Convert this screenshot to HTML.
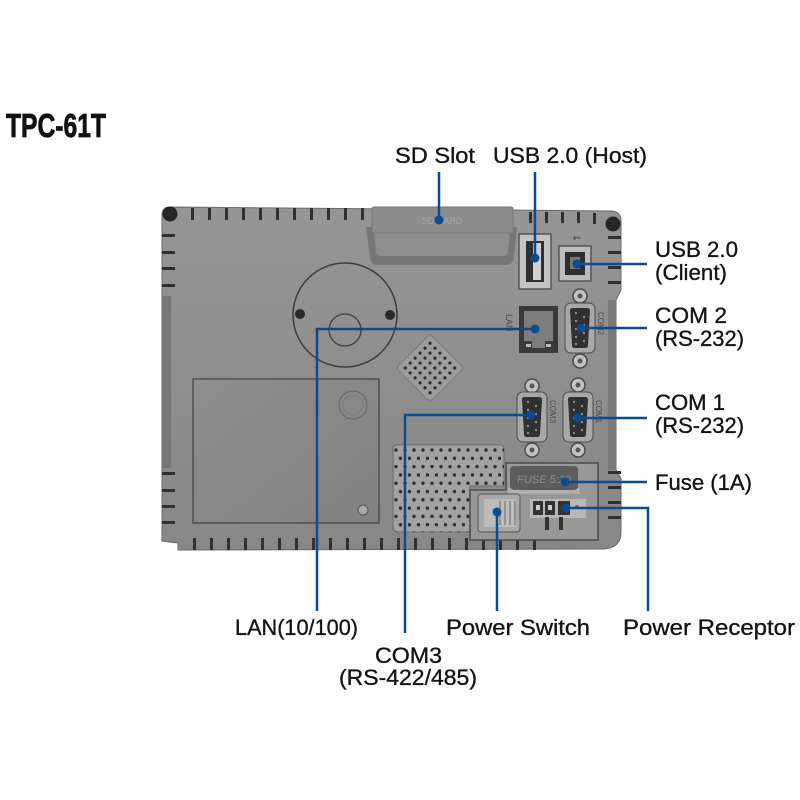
<!DOCTYPE html>
<html><head><meta charset="utf-8">
<style>html,body{margin:0;padding:0;background:#fff;width:800px;height:800px;overflow:hidden}svg{display:block}
.lb{font-family:"Liberation Sans",Arial,sans-serif;font-size:22px;fill:#141414;stroke:#141414;stroke-width:0.35px}
.sm{font-family:"Liberation Sans",Arial,sans-serif;fill:#4a4a4a}
</style></head>
<body>
<svg width="800" height="800" viewBox="0 0 800 800" xmlns="http://www.w3.org/2000/svg">
<defs>
<linearGradient id="body" x1="0" y1="0" x2="0" y2="1">
<stop offset="0" stop-color="#959595"/><stop offset="1" stop-color="#878787"/>
</linearGradient>
<linearGradient id="plate" x1="0" y1="0" x2="1" y2="1">
<stop offset="0" stop-color="#8e8e8e"/><stop offset="1" stop-color="#828282"/>
</linearGradient>
<pattern id="holes" x="393" y="446" width="9" height="16.6" patternUnits="userSpaceOnUse">
<circle cx="3" cy="4" r="1.7" fill="#2e2e2e"/>
<circle cx="7.5" cy="12.3" r="1.7" fill="#2e2e2e"/>
</pattern>
<pattern id="dhole" x="-21" y="-21" width="7" height="7" patternUnits="userSpaceOnUse">
<circle cx="3.5" cy="3.5" r="1.6" fill="#2e2e2e"/>
</pattern>
</defs>

<!-- Title -->
<text x="6" y="137" font-family="Liberation Sans, Arial, sans-serif" font-weight="bold" font-size="33" fill="#111" stroke="#111" stroke-width="0.8" textLength="100" lengthAdjust="spacingAndGlyphs">TPC-61T</text>

<!-- Body -->
<path d="M170,207 L612,211 Q621,212 621,221 L621,290 L616,300 L616,470 L621,478 L621,532 Q621,548 604,549 L178,550 L178,543 L162,541 L162,215 Q162,207 170,207 Z" fill="url(#body)" stroke="#6a6a6a" stroke-width="1"/>
<rect x="162" y="296" width="9" height="172" fill="#777"/>
<rect x="608" y="300" width="8" height="170" fill="#7a7a7a"/>

<!-- corner holes -->
<circle cx="170" cy="214" r="7.5" fill="#262626"/>
<circle cx="613" cy="224" r="7.5" fill="#262626"/>

<!-- top slits -->
<g fill="#303030">
<rect x="191" y="208" width="3" height="12"/><rect x="208" y="208" width="3" height="12"/><rect x="225" y="208" width="3" height="12"/><rect x="242" y="208" width="3" height="12"/><rect x="259" y="208" width="3" height="12"/><rect x="276" y="208" width="3" height="12"/><rect x="293" y="208" width="3" height="12"/><rect x="310" y="208" width="3" height="12"/><rect x="327" y="208" width="3" height="12"/><rect x="344" y="208" width="3" height="12"/><rect x="361" y="208" width="3" height="12"/>
<rect x="529" y="212" width="3" height="11"/><rect x="545" y="212" width="3" height="11"/><rect x="561" y="212" width="3" height="11"/><rect x="577" y="212" width="3" height="11"/><rect x="593" y="213" width="3" height="11"/>
<rect x="162" y="234" width="13" height="3"/><rect x="162" y="251" width="13" height="3"/><rect x="162" y="267" width="13" height="3"/><rect x="162" y="284" width="13" height="3"/>
<rect x="162" y="472" width="13" height="3"/><rect x="162" y="489" width="13" height="3"/><rect x="162" y="505" width="13" height="3"/><rect x="162" y="521" width="13" height="3"/>
<rect x="608" y="236" width="13" height="3"/><rect x="608" y="251" width="13" height="3"/><rect x="608" y="266" width="13" height="3"/><rect x="608" y="281" width="13" height="3"/>
<rect x="608" y="471" width="13" height="3"/><rect x="608" y="486" width="13" height="3"/><rect x="608" y="501" width="13" height="3"/><rect x="608" y="516" width="13" height="3"/>
<rect x="193" y="538" width="3" height="12"/><rect x="210" y="538" width="3" height="12"/><rect x="227" y="538" width="3" height="12"/><rect x="244" y="538" width="3" height="12"/><rect x="261" y="538" width="3" height="12"/><rect x="278" y="538" width="3" height="12"/><rect x="295" y="538" width="3" height="12"/><rect x="312" y="538" width="3" height="12"/><rect x="329" y="538" width="3" height="12"/><rect x="346" y="538" width="3" height="12"/><rect x="363" y="538" width="3" height="12"/><rect x="380" y="538" width="3" height="12"/><rect x="397" y="538" width="3" height="12"/><rect x="414" y="538" width="3" height="12"/><rect x="431" y="538" width="3" height="12"/><rect x="448" y="538" width="3" height="12"/><rect x="465" y="538" width="3" height="12"/><rect x="482" y="538" width="3" height="12"/><rect x="499" y="538" width="3" height="12"/><rect x="516" y="538" width="3" height="12"/><rect x="533" y="538" width="3" height="12"/>
</g>

<!-- SD slot -->
<path d="M366,227 L370,258 Q371,265 378,265 L506,265 Q513,265 514,258 L517,227 Z" fill="#767676"/>
<path d="M374,232 L376,252 Q377,256 382,256 L503,256 Q508,256 508,252 L510,232 Z" fill="#8e8e8e"/>
<rect x="372" y="207" width="141" height="26" rx="2" fill="#8c8c8c" stroke="#777" stroke-width="1"/>
<text x="442" y="224" text-anchor="middle" font-family="Liberation Sans, Arial, sans-serif" font-size="9" fill="#a8a8a8">SD CARD</text>

<!-- USB host -->
<rect x="519" y="234" width="32" height="55" fill="#c4c4c4" stroke="#555" stroke-width="1.5"/>
<rect x="526" y="241" width="18" height="41" fill="#2e2e2e"/>
<rect x="533" y="243" width="8" height="37" fill="#d0d0d0"/>

<!-- USB B -->
<text x="577" y="241" text-anchor="middle" class="sm" font-size="10">⇜</text>
<rect x="559" y="246" width="32" height="35" fill="#bcbcbc" stroke="#555" stroke-width="1.5"/>
<rect x="565" y="252" width="20" height="23" fill="#2e2e2e"/>
<rect x="570" y="257" width="10" height="12" fill="#777"/>

<!-- LAN -->
<rect x="519" y="306" width="39" height="47" fill="#3a3a3a"/>
<rect x="524" y="311" width="29" height="30" fill="#7d7d7d"/>
<rect x="532" y="340" width="13" height="8" fill="#7d7d7d"/>
<rect x="526" y="344" width="5" height="3" fill="#bbb"/><rect x="546" y="344" width="5" height="3" fill="#bbb"/>
<text x="0" y="0" class="sm" font-size="9" transform="translate(506,314) rotate(90)">LAN</text>

<!-- Big circle -->
<circle cx="345" cy="315" r="52" fill="none" stroke="#3d3d3d" stroke-width="1.5"/>
<circle cx="345" cy="330" r="16" fill="none" stroke="#3d3d3d" stroke-width="1.3"/>
<circle cx="300" cy="314" r="5" fill="#2a2a2a"/>
<circle cx="390" cy="315" r="5" fill="#2a2a2a"/>

<!-- Diamond grill -->
<g transform="translate(430,368) rotate(45)">
<rect x="-24" y="-24" width="48" height="48" rx="4" fill="#9c9c9c" stroke="#7a7a7a"/>
<rect x="-21" y="-21" width="42" height="42" fill="url(#dhole)"/>
</g>

<!-- Plate -->
<rect x="193" y="379" width="186" height="144" fill="url(#plate)" stroke="#404040" stroke-width="1.2"/>
<circle cx="353" cy="405" r="14" fill="none" stroke="#6a6a6a" stroke-width="1.2"/>
<circle cx="353" cy="405" r="10" fill="none" stroke="#7c7c7c" stroke-width="1"/>
<circle cx="363" cy="510" r="5" fill="#ababab" stroke="#555"/>

<!-- Bottom grill -->
<path d="M397,445 L500,445 Q504,445 504,449 L504,486 L470,486 L470,532 L398,532 Q393,532 393,527 L393,449 Q393,445 397,445 Z" fill="#a2a2a2" stroke="#6a6a6a"/>
<path d="M397,445 L500,445 Q504,445 504,449 L504,486 L470,486 L470,532 L398,532 Q393,532 393,527 L393,449 Q393,445 397,445 Z" fill="url(#holes)"/>

<!-- DB9 connectors -->
<g stroke="#4a4a4a" stroke-width="1.5">
<circle cx="580" cy="296" r="7" fill="#c2c2c2"/><circle cx="580" cy="361" r="7" fill="#c2c2c2"/>
<circle cx="532" cy="386" r="7" fill="#c2c2c2"/><circle cx="532" cy="450" r="7" fill="#c2c2c2"/>
<circle cx="578" cy="385" r="7" fill="#c2c2c2"/><circle cx="578" cy="450" r="7" fill="#c2c2c2"/>
</g>
<g fill="#555">
<circle cx="580" cy="296" r="2.5"/><circle cx="580" cy="361" r="2.5"/>
<circle cx="532" cy="386" r="2.5"/><circle cx="532" cy="450" r="2.5"/>
<circle cx="578" cy="385" r="2.5"/><circle cx="578" cy="450" r="2.5"/>
</g>
<g>
<rect x="565" y="303" width="30" height="50" rx="6" fill="#a8a8a8" stroke="#4a4a4a"/>
<path d="M570,310 Q570,308 573,308 L587,308 Q590,308 590,311 L588,345 Q588,348 585,348 L575,348 Q572,348 572,345 Z" fill="#303030"/>
<rect x="517" y="392" width="30" height="50" rx="6" fill="#a8a8a8" stroke="#4a4a4a"/>
<path d="M522,399 Q522,397 525,397 L539,397 Q542,397 542,400 L540,434 Q540,437 537,437 L527,437 Q524,437 524,434 Z" fill="#303030"/>
<rect x="563" y="392" width="30" height="50" rx="6" fill="#a8a8a8" stroke="#4a4a4a"/>
<path d="M568,399 Q568,397 571,397 L585,397 Q588,397 588,400 L586,434 Q586,437 583,437 L573,437 Q570,437 570,434 Z" fill="#303030"/>
</g>
<g fill="#8a8a8a">
<circle cx="576" cy="313" r="1.2"/><circle cx="576" cy="321" r="1.2"/><circle cx="576" cy="329" r="1.2"/><circle cx="576" cy="337" r="1.2"/><circle cx="576" cy="344" r="1.2"/>
<circle cx="584" cy="317" r="1.2"/><circle cx="584" cy="325" r="1.2"/><circle cx="584" cy="333" r="1.2"/><circle cx="584" cy="341" r="1.2"/>
<circle cx="528" cy="402" r="1.2"/><circle cx="528" cy="410" r="1.2"/><circle cx="528" cy="418" r="1.2"/><circle cx="528" cy="426" r="1.2"/><circle cx="528" cy="433" r="1.2"/>
<circle cx="536" cy="406" r="1.2"/><circle cx="536" cy="414" r="1.2"/><circle cx="536" cy="422" r="1.2"/><circle cx="536" cy="430" r="1.2"/>
<circle cx="574" cy="402" r="1.2"/><circle cx="574" cy="410" r="1.2"/><circle cx="574" cy="418" r="1.2"/><circle cx="574" cy="426" r="1.2"/><circle cx="574" cy="433" r="1.2"/>
<circle cx="582" cy="406" r="1.2"/><circle cx="582" cy="414" r="1.2"/><circle cx="582" cy="422" r="1.2"/><circle cx="582" cy="430" r="1.2"/>
</g>
<text class="sm" font-size="8" transform="translate(598,312) rotate(90)">COM2</text>
<text class="sm" font-size="8" transform="translate(550,400) rotate(90)">COM3</text>
<text class="sm" font-size="8" transform="translate(596,400) rotate(90)">COM1</text>

<!-- Power area -->
<path d="M470,490 L506,490 L506,463 L598,463 L598,540 L470,540 Z" fill="#989898" stroke="#4a4a4a" stroke-width="1.5"/>
<rect x="508" y="488" width="72" height="6" fill="#b0b0b0"/>
<rect x="510" y="466" width="68" height="24" rx="4" fill="#5c5c5c"/>
<text x="544" y="483" text-anchor="middle" font-family="Liberation Sans, Arial, sans-serif" font-size="11" font-style="italic" fill="#8e8e8e">FUSE 5:20</text>
<rect x="478" y="494" width="42" height="38" rx="3" fill="#a8a8a8" stroke="#555"/>
<rect x="484" y="499" width="32" height="28" fill="#bcbcbc"/>
<g stroke="#777" stroke-width="1.2"><line x1="500" y1="501" x2="500" y2="525"/><line x1="505" y1="501" x2="505" y2="525"/><line x1="510" y1="501" x2="510" y2="525"/><line x1="515" y1="501" x2="515" y2="525"/></g>
<rect x="530" y="499" width="56" height="19" fill="#b8b8b8"/>
<rect x="533" y="501" width="10" height="14" fill="#333"/><rect x="545" y="501" width="10" height="14" fill="#333"/><rect x="558" y="501" width="12" height="14" fill="#333"/>
<rect x="536" y="505" width="4" height="5" fill="#ccc"/><rect x="548" y="505" width="4" height="5" fill="#ccc"/>
<rect x="545" y="517" width="4" height="13" fill="#333"/><rect x="559" y="517" width="4" height="13" fill="#333"/>
<circle cx="577" cy="507" r="2" fill="#666"/>

<!-- Blue callout lines -->
<g stroke="#0b4b8f" stroke-width="2.5" fill="none">
<line x1="439" y1="172" x2="439" y2="220"/>
<line x1="535" y1="172" x2="535" y2="258"/>
<line x1="577" y1="264" x2="647" y2="264"/>
<line x1="581" y1="328" x2="647" y2="328"/>
<line x1="578" y1="418" x2="647" y2="418"/>
<line x1="565" y1="482" x2="647" y2="482"/>
<polyline points="566,508 648,508 648,611"/>
<line x1="497" y1="512" x2="497" y2="611"/>
<polyline points="535,329 317,329 317,611"/>
<polyline points="531,415 405,415 405,633"/>
</g>
<g fill="#0b4b8f">
<circle cx="439" cy="220" r="4.5"/>
<circle cx="535" cy="258" r="4.5"/>
<circle cx="577" cy="264" r="4.5"/>
<circle cx="581" cy="328" r="4.5"/>
<circle cx="578" cy="418" r="4.5"/>
<circle cx="565" cy="482" r="4.5"/>
<circle cx="566" cy="508" r="4.5"/>
<circle cx="497" cy="512" r="4.5"/>
<circle cx="535" cy="329" r="4.5"/>
<circle cx="531" cy="415" r="4.5"/>
</g>

<!-- Labels -->
<text class="lb" x="395" y="163" textLength="80" lengthAdjust="spacingAndGlyphs">SD Slot</text>
<text class="lb" x="493" y="163" textLength="154" lengthAdjust="spacingAndGlyphs">USB 2.0 (Host)</text>
<text class="lb" x="655" y="257" textLength="83" lengthAdjust="spacingAndGlyphs">USB 2.0</text>
<text class="lb" x="655" y="280" textLength="72" lengthAdjust="spacingAndGlyphs">(Client)</text>
<text class="lb" x="655" y="323" textLength="72" lengthAdjust="spacingAndGlyphs">COM 2</text>
<text class="lb" x="655" y="346" textLength="89" lengthAdjust="spacingAndGlyphs">(RS-232)</text>
<text class="lb" x="655" y="410" textLength="70" lengthAdjust="spacingAndGlyphs">COM 1</text>
<text class="lb" x="655" y="433" textLength="89" lengthAdjust="spacingAndGlyphs">(RS-232)</text>
<text class="lb" x="655" y="490" textLength="97" lengthAdjust="spacingAndGlyphs">Fuse (1A)</text>
<text class="lb" x="235" y="635" textLength="123" lengthAdjust="spacingAndGlyphs">LAN(10/100)</text>
<text class="lb" x="446" y="635" textLength="144" lengthAdjust="spacingAndGlyphs">Power Switch</text>
<text class="lb" x="623" y="635" textLength="172" lengthAdjust="spacingAndGlyphs">Power Receptor</text>
<text class="lb" x="375" y="663" textLength="67" lengthAdjust="spacingAndGlyphs">COM3</text>
<text class="lb" x="339" y="685" textLength="138" lengthAdjust="spacingAndGlyphs">(RS-422/485)</text>
</svg>
</body></html>
